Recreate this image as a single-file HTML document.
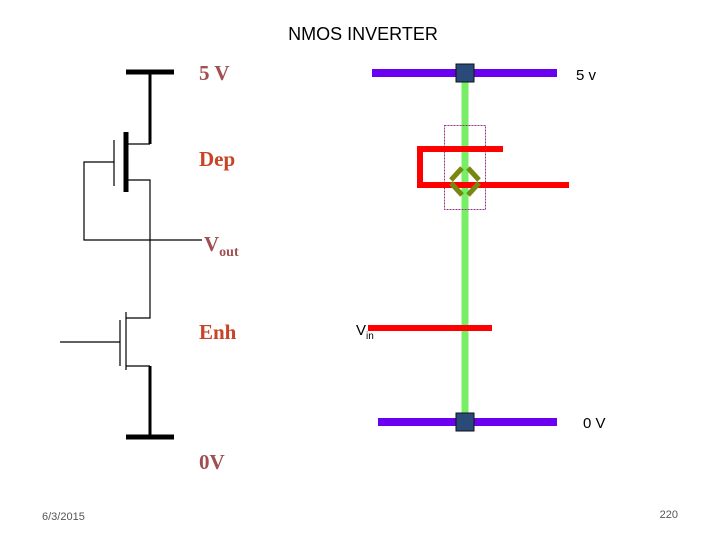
<!DOCTYPE html>
<html><head><meta charset="utf-8"><style>
body{margin:0;background:#fff}
svg{display:block}
.s{font-family:"Liberation Serif",serif;font-weight:bold}
.a{font-family:"Liberation Sans",sans-serif}
</style></head><body>
<svg width="720" height="540" viewBox="0 0 720 540" xmlns="http://www.w3.org/2000/svg">
<text x="363" y="40" class="a" font-size="18" text-anchor="middle" fill="#000">NMOS INVERTER</text>
<!-- schematic -->
<g stroke="#000" fill="none">
<line x1="126" y1="72" x2="174" y2="72" stroke-width="5"/>
<line x1="150" y1="72" x2="150" y2="144" stroke-width="3"/>
<line x1="126" y1="132" x2="126" y2="192" stroke-width="5"/>
<line x1="114" y1="140" x2="114" y2="186" stroke-width="1.2"/>
<polyline points="128,144 150,144" stroke-width="1.2"/>
<polyline points="128,180 150,180 150,318 126,318" stroke-width="1.2"/>
<polyline points="114,162 84,162 84,240 202,240" stroke-width="1.2"/>
<line x1="126" y1="312" x2="126" y2="370" stroke-width="1.2"/>
<line x1="120" y1="320" x2="120" y2="366" stroke-width="1.2"/>
<line x1="60" y1="342" x2="120" y2="342" stroke-width="1.2"/>
<line x1="126" y1="366" x2="150" y2="366" stroke-width="1.2"/>
<line x1="150" y1="366" x2="150" y2="437" stroke-width="3"/>
<line x1="126" y1="437" x2="174" y2="437" stroke-width="5"/>
</g>
<text x="199" y="80" class="s" font-size="21" fill="#a05050">5 V</text>
<text x="199" y="166" class="s" font-size="21" fill="#c84424">Dep</text>
<text x="204" y="251" class="s" font-size="21" fill="#a05050">V<tspan font-size="14" dy="5">out</tspan></text>
<text x="199" y="339" class="s" font-size="21" fill="#c84424">Enh</text>
<text x="199" y="469" class="s" font-size="21" fill="#a05050">0V</text>
<!-- layout -->
<rect x="372" y="69" width="185" height="8" fill="#6a00f0"/>
<rect x="378" y="418" width="179" height="8" fill="#6a00f0"/>
<line x1="465" y1="80" x2="465" y2="420" stroke="#77ee66" stroke-width="7"/>
<rect x="444.5" y="125.5" width="41" height="84" fill="none" stroke="#993388" stroke-width="1" stroke-dasharray="2,1"/>
<g stroke="#ff0000" stroke-width="6" fill="none">
<polyline points="503,149 420,149 420,185 569,185"/>
<line x1="368" y1="328" x2="492" y2="328"/>
</g>
<g stroke="#778811" stroke-width="5" fill="none">
<polyline points="451,180 462,168"/>
<polyline points="468,168 479,180"/>
<polyline points="451,183 462,195"/>
<polyline points="468,195 479,183"/>
</g>
<rect x="456" y="64" width="18" height="18" fill="#2a4a7a" stroke="#111" stroke-width="1"/>
<rect x="456" y="413" width="18" height="18" fill="#2a4a7a" stroke="#111" stroke-width="1"/>
<text x="576" y="80" class="a" font-size="15" fill="#000">5 v</text>
<text x="356" y="335" class="a" font-size="15" fill="#000">V<tspan font-size="10" dy="4">in</tspan></text>
<text x="583" y="428" class="a" font-size="15" fill="#000">0 V</text>
<text x="42" y="520" class="a" font-size="11" fill="#555">6/3/2015</text>
<text x="678" y="518" class="a" font-size="11" fill="#555" text-anchor="end">220</text>
</svg>
</body></html>
